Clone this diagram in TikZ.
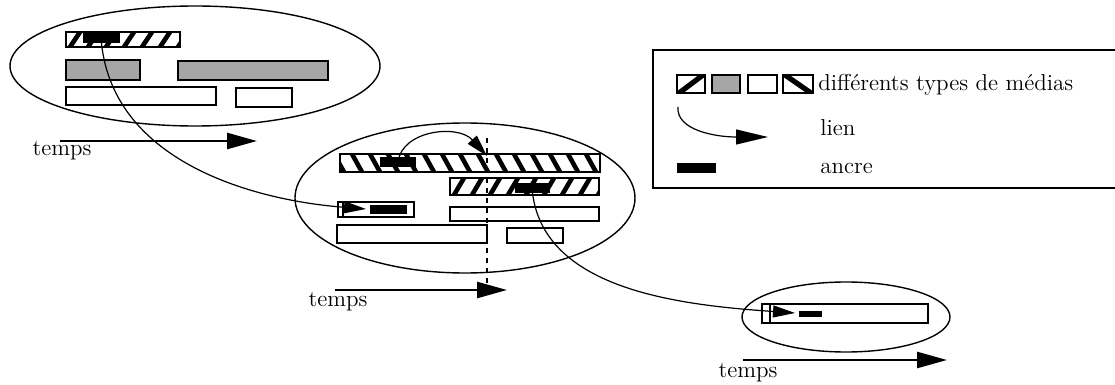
\documentclass[tikz,border=0pt]{standalone}
\usepackage{tikz}
\usetikzlibrary{arrows.meta,shapes.geometric}

% bande hachuree : x1,y1,x2,y2, sens (1 pour /, -1 pour \)
\newcommand\hachures[5]{%
  \begin{scope}
    \clip (#1,#2) rectangle (#3,#4);
    \foreach \k in {-2,...,16}
      \draw[line width=2.3pt] ({#1+4+18*\k},{#4}) -- ++({#5*10},{#2-#4});
  \end{scope}}

\begin{document}
\begin{tikzpicture}[
    x=0.5pt, y=-0.5pt,
    bande/.style={line width=1.1pt},
    gris/.style={bande, fill=black!35},
    ancre/.style={rectangle, fill=black, inner sep=0pt, outer sep=0pt},
    plan/.style={ellipse, draw, line width=0.7pt, inner sep=0pt},
    lien/.style={-{Triangle[length=11pt,width=6pt]}, line width=0.6pt},
    temps/.style={-{Triangle[length=15pt,width=8pt]}, line width=1.3pt},
    pointille/.style={line width=1pt, dash pattern=on 2.5pt off 2.5pt},
    etiq/.style={font=\fontsize{11.5}{14}\selectfont, inner sep=0pt},
]
\clip (0,0) rectangle (1115,385);

% premier plan
\node[plan, minimum width=185pt, minimum height=60pt] (e1) at (195,66) {};
\hachures{66}{32}{180}{47}{1}
\draw[bande] (66,32) rectangle (180,47);
\draw[gris] (66,60) rectangle (140,80);
\draw[gris] (178,61) rectangle (328,80);
\draw[bande] (66,87) rectangle (216,105);
\draw[bande] (236,88) rectangle (292,107);
\node[ancre, minimum width=18.5pt, minimum height=5pt] (a1) at (101,38) {};

% deuxieme plan
\node[plan, minimum width=170pt, minimum height=75pt] (e2) at (465,198) {};
\hachures{340}{154}{600}{172}{-1}
\draw[bande] (340,154) rectangle (600,172);
\hachures{450}{178}{599}{195}{1}
\draw[bande] (450,178) rectangle (599,195);
\draw[bande] (338,202) rectangle (414,217);
\draw[line width=0.6pt] (343,202) -- (343,217);
\draw[bande] (450,207) rectangle (599,221);
\draw[bande] (337,225) rectangle (487,243);
\draw[bande] (507,228) rectangle (563,243);
\node[ancre, minimum width=18pt, minimum height=5pt] (a2) at (398,162) {};
\node[ancre, minimum width=17.5pt, minimum height=5pt] (a3) at (532,188) {};
\node[ancre, minimum width=18.5pt, minimum height=4.5pt] (a4) at (388,209.5) {};

% troisieme plan
\node[plan, minimum width=104pt, minimum height=35pt] (e3) at (846,317) {};
\draw[bande] (762,304) rectangle (928,323);
\draw[line width=0.6pt] (770,304) -- (770,323);
\node[ancre, minimum width=11.5pt, minimum height=3pt] (a5) at (810.5,314) {};

% axes du temps
\coordinate (ta1) at (60,141);  \coordinate (tb1) at (257,141);
\coordinate (ta2) at (335,290); \coordinate (tb2) at (507,290);
\coordinate (ta3) at (743,360); \coordinate (tb3) at (947,360);
\draw[temps] (ta1) -- (tb1);
\draw[temps] (ta2) -- (tb2);
\draw[temps] (ta3) -- (tb3);
\node[etiq] (temps1) at (62,151) {temps};
\node[etiq] (temps2) at (338,302) {temps};
\node[etiq] (temps3) at (748,373) {temps};

% liens
\coordinate (t1) at (366,209);
\coordinate (t2) at (795,313);
\coordinate (t3) at (487,156);
\coordinate (d1) at (487,138);
\coordinate (d2) at (487,292);
\draw[pointille] (d1) -- (d2);
\draw[lien] (a1.center) .. controls (110,160) and (250,200) .. (t1);
\draw[lien] (a3.center) .. controls (540,290) and (680,305) .. (t2);
\draw[lien] (a2.center) .. controls (402,130) and (458,124) .. (t3);

% legende
\draw[line width=0.9pt] (1120,50) -- (653,50) -- (653,188) -- (1120,188);
\begin{scope}
  \clip (677,75) rectangle (705,93);
  \draw[line width=2.6pt] (679,93) -- (703,75);
\end{scope}
\draw[bande] (677,75) rectangle (705,93);
\draw[gris] (712,75) rectangle (740,93);
\draw[bande] (748,75) rectangle (777,93);
\begin{scope}
  \clip (783,75) rectangle (813,93);
  \draw[line width=2.6pt] (785,75) -- (811,93);
\end{scope}
\draw[bande] (783,75) rectangle (813,93);
\node[etiq, anchor=west] (types) at (818,85) {différents types de médias};
\coordinate (lg1) at (678,107);
\coordinate (lg2) at (768,137);
\draw[-{Triangle[length=16pt,width=7.5pt]}, line width=0.6pt] (lg1) .. controls (676,130) and (715,137) .. (lg2);
\node[etiq, anchor=west] (nlien) at (820,128) {lien};
\node[ancre, minimum width=19.5pt, minimum height=5pt] (lga) at (696.5,168) {};
\node[etiq, anchor=west] (nancre) at (820,168) {ancre};
\end{tikzpicture}
\end{document}
